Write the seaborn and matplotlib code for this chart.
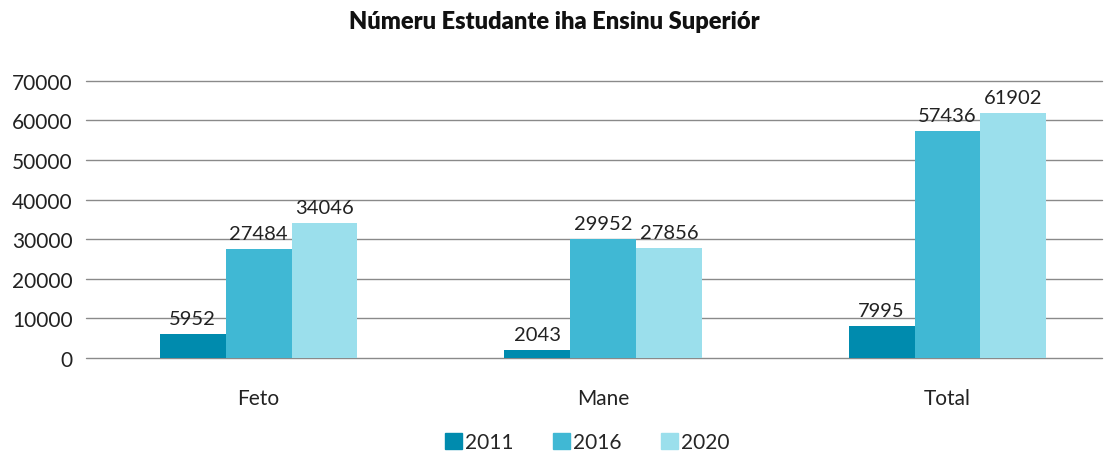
import matplotlib
matplotlib.use("Agg")
import matplotlib.pyplot as plt
import seaborn as sns
import pandas as pd

# data
categories = ["Feto", "Mane", "Total"]
years = ["2011", "2016", "2020"]
vals_2011 = [5952, 2043, 7995]
vals_2016 = [27484, 29952, 57436]
vals_2020 = [34046, 27856, 61902]
colors = ["#008BAE", "#40B8D4", "#9BDFEC"]

df = pd.DataFrame({
    "cat": categories * 3,
    "year": [y for y in years for _ in categories],
    "value": vals_2011 + vals_2016 + vals_2020,
})

sns.set_style("white")
plt.rcParams["font.family"] = ["Lato", "DejaVu Sans"]

fig = plt.figure(figsize=(11.08, 4.52), dpi=100)
ax = fig.add_axes([0.078, 0.206, 0.917, 0.613])

sns.barplot(data=df, x="cat", y="value", hue="year", palette=colors,
            width=0.574, gap=0, saturation=1, linewidth=0, ax=ax, zorder=3)

for cont in ax.containers:
    ax.bar_label(cont, fmt="%d", padding=5, fontsize=14.5, color="#222222")

ax.set_xlim(-0.5, 2.45)
ax.set_ylim(0, 70000)
ax.set_yticks(range(0, 70001, 10000))
ax.yaxis.grid(True, color="#8a8a8a", linewidth=1, clip_on=False)
ax.set_axisbelow(True)
for s in ax.spines.values():
    s.set_visible(False)
ax.tick_params(axis="both", length=0, labelsize=15, colors="#222222")
ax.tick_params(axis="x", pad=22)
ax.tick_params(axis="y", pad=10)
ax.set_xlabel("")
ax.set_ylabel("")

ax.get_legend().remove()
handles = [plt.Rectangle((0, 0), 1, 1, color=c) for c in colors]
fig.legend(handles, years, loc="center", bbox_to_anchor=(0.53, 0.02), ncol=3,
           frameon=False, fontsize=15, handlelength=0.8, handleheight=0.8,
           handletextpad=0.15, columnspacing=1.9)

fig.suptitle("Númeru Estudante iha Ensinu Superiór", y=0.975, fontsize=17,
             fontweight="heavy", color="#111111")

fig.savefig("out.png", dpi=100)
